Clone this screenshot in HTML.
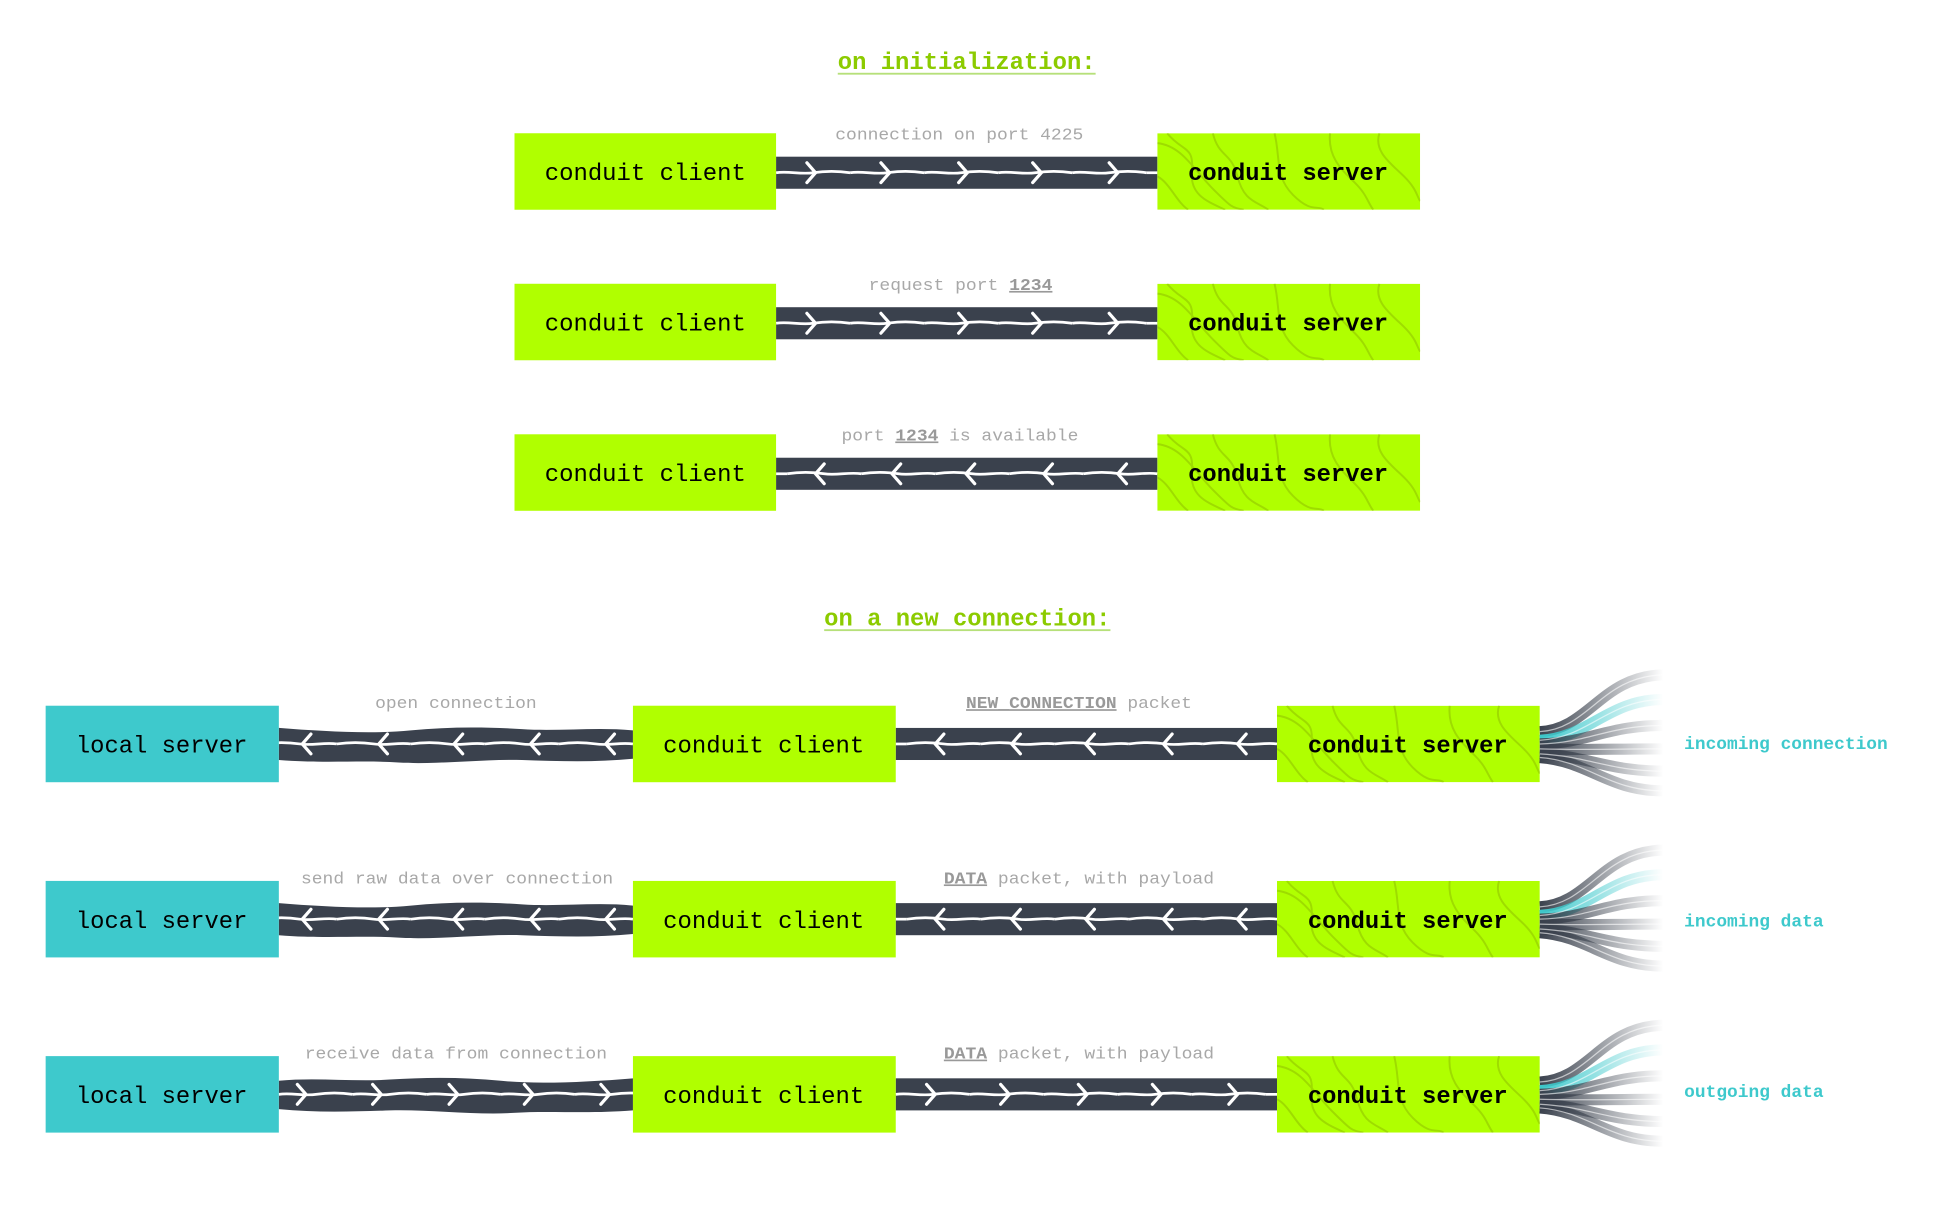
<!DOCTYPE html>
<html><head><meta charset="utf-8"><style>html,body{margin:0;padding:0;background:#fff}svg{display:block}</style></head><body>
<svg width="1934" height="1217" viewBox="0 0 1567.5 986.4" preserveAspectRatio="none" xmlns="http://www.w3.org/2000/svg" font-family="'Liberation Mono', 'DejaVu Sans Mono', monospace">
<defs>
<linearGradient id="gd" gradientUnits="userSpaceOnUse" x1="0" y1="0" x2="100" y2="0"><stop offset="0" stop-color="#3a414d"/><stop offset="1" stop-color="#3a414d" stop-opacity="0"/></linearGradient>
<linearGradient id="gt" gradientUnits="userSpaceOnUse" x1="0" y1="0" x2="100" y2="0"><stop offset="0" stop-color="#3ec9cc"/><stop offset="1" stop-color="#3ec9cc" stop-opacity="0"/></linearGradient>
<g id="chev"><path d="M-7,-8 L0,0 L-7,8" fill="none" stroke="#fff" stroke-width="2.6" stroke-linecap="round"/></g>
<g id="wl"><path d="M0,0 C10,-1.5 20,1.5 30,0 S50,-1.5 60,0" fill="none" stroke="#fff" stroke-width="2.2"/></g>
<symbol id="bar" viewBox="0 -13 309 26" width="309" height="26" overflow="visible">
<rect x="0" y="-13" width="309" height="26" fill="#3a414d"/>
<use href="#wl" x="0"/><use href="#wl" x="60"/><use href="#wl" x="120"/><use href="#wl" x="180"/><use href="#wl" x="240"/><path d="M300,0 L309,0" stroke="#fff" stroke-width="2.2"/>
<use href="#chev" x="32"/><use href="#chev" x="92"/><use href="#chev" x="155"/><use href="#chev" x="215"/><use href="#chev" x="277"/>
</symbol>
<symbol id="wbar" viewBox="0 -16 287 32" width="287" height="32" overflow="visible">
<path d="M0,-11 C30,-14 60,-10 90,-12 S150,-14 180,-11 S250,-10 287,-13 L287,13 C250,16 220,13 190,15 S120,12 90,13 S30,15 0,12 Z" fill="#3a414d"/>
<use href="#wl" x="0"/><use href="#wl" x="60"/><use href="#wl" x="120"/><use href="#wl" x="180"/><use href="#wl" x="240"/>
<use href="#chev" x="22"/><use href="#chev" x="83"/><use href="#chev" x="145"/><use href="#chev" x="206"/><use href="#chev" x="268"/>
</symbol>
<symbol id="pat" viewBox="0 0 213 62" width="213" height="62">
<rect width="213" height="62" fill="#b0ff00"/>
<g fill="none" stroke="#9ad400" stroke-width="1.6" opacity="0.8">
<path d="M0,8 C20,10 30,30 45,45 S60,60 70,62"/>
<path d="M8,0 C20,15 30,10 28,30 S40,55 55,62"/>
<path d="M45,0 C50,20 60,15 65,35 S80,55 90,62"/>
<path d="M95,0 C100,20 95,35 110,50 S130,58 135,62"/>
<path d="M140,0 C138,20 150,30 160,40 S170,55 175,62"/>
<path d="M180,0 C175,15 190,25 200,35 S210,50 213,55"/>
<path d="M0,35 C10,40 15,55 25,62"/>
</g>
</symbol>
<symbol id="fan" viewBox="0 -60 105 120" width="105" height="120" overflow="visible">
<g fill="none" stroke-width="9">
<path d="M0,-10 C40,-12 50,-55 100,-56" stroke="url(#gd)"/>
<path d="M0,-3 C40,-5 55,-36 100,-36" stroke="url(#gt)"/>
<path d="M0,0 C40,-1 55,-15 100,-15" stroke="url(#gd)"/>
<path d="M0,4 C40,5 55,4 100,4" stroke="url(#gd)"/>
<path d="M0,8 C40,10 55,22 100,22" stroke="url(#gd)"/>
<path d="M0,11 C40,14 55,38 100,38" stroke="url(#gd)"/>
</g>
<g fill="none" stroke="#fff" stroke-width="1" opacity="0.6">
<path d="M0,-10 C40,-12 50,-55 100,-56"/><path d="M0,-3 C40,-5 55,-36 100,-36"/><path d="M0,0 C40,-1 55,-15 100,-15"/><path d="M0,4 C40,5 55,4 100,4"/><path d="M0,8 C40,10 55,22 100,22"/><path d="M0,11 C40,14 55,38 100,38"/>
</g>
</symbol>
</defs>

<text x="783.5" y="56" text-anchor="middle" font-size="19.5" font-weight="bold" fill="#8ccb00" textLength="209" lengthAdjust="spacingAndGlyphs">on initialization:</text>
<rect x="679" y="59" width="209" height="1.5" fill="#b6e07a"/>
<text x="784" y="507" text-anchor="middle" font-size="19.5" font-weight="bold" fill="#8ccb00" textLength="232" lengthAdjust="spacingAndGlyphs">on a new connection:</text>
<rect x="668" y="510" width="232" height="1.5" fill="#b6e07a"/>

<g font-size="19.5" text-anchor="middle">
<g>
<use href="#bar" x="629" y="127"/>
<rect x="417" y="108" width="212" height="62" fill="#b0ff00"/>
<use href="#pat" x="938" y="108"/>
<text x="523" y="146" textLength="163" lengthAdjust="spacingAndGlyphs">conduit client</text>
<text x="1044" y="146" font-weight="bold" textLength="162" lengthAdjust="spacingAndGlyphs">conduit server</text>
</g>
<g>
<use href="#bar" x="629" y="249"/>
<rect x="417" y="230" width="212" height="62" fill="#b0ff00"/>
<use href="#pat" x="938" y="230"/>
<text x="523" y="268" textLength="163" lengthAdjust="spacingAndGlyphs">conduit client</text>
<text x="1044" y="268" font-weight="bold" textLength="162" lengthAdjust="spacingAndGlyphs">conduit server</text>
</g>
<g>
<use href="#bar" x="-938" y="371" transform="scale(-1,1)"/>
<rect x="417" y="352" width="212" height="62" fill="#b0ff00"/>
<use href="#pat" x="938" y="352"/>
<text x="523" y="390" textLength="163" lengthAdjust="spacingAndGlyphs">conduit client</text>
<text x="1044" y="390" font-weight="bold" textLength="162" lengthAdjust="spacingAndGlyphs">conduit server</text>
</g>

<g>
<use href="#wbar" x="-513" y="587" transform="scale(-1,1)"/>
<use href="#bar" x="-1035" y="590" transform="scale(-1,1)"/>
<rect x="37" y="572" width="189" height="62" fill="#3ec9cc"/>
<rect x="513" y="572" width="213" height="62" fill="#b0ff00"/>
<use href="#pat" x="1035" y="572"/>
<use href="#fan" x="1248" y="543"/>
<text x="131" y="610" textLength="139" lengthAdjust="spacingAndGlyphs">local server</text>
<text x="619" y="610" textLength="163" lengthAdjust="spacingAndGlyphs">conduit client</text>
<text x="1141" y="610" font-weight="bold" textLength="162" lengthAdjust="spacingAndGlyphs">conduit server</text>
</g>
<g>
<use href="#wbar" x="-513" y="729" transform="scale(-1,1)"/>
<use href="#bar" x="-1035" y="732" transform="scale(-1,1)"/>
<rect x="37" y="714" width="189" height="62" fill="#3ec9cc"/>
<rect x="513" y="714" width="213" height="62" fill="#b0ff00"/>
<use href="#pat" x="1035" y="714"/>
<use href="#fan" x="1248" y="685"/>
<text x="131" y="752" textLength="139" lengthAdjust="spacingAndGlyphs">local server</text>
<text x="619" y="752" textLength="163" lengthAdjust="spacingAndGlyphs">conduit client</text>
<text x="1141" y="752" font-weight="bold" textLength="162" lengthAdjust="spacingAndGlyphs">conduit server</text>
</g>
<g>
<use href="#wbar" x="226" y="871"/>
<use href="#bar" x="726" y="874"/>
<rect x="37" y="856" width="189" height="62" fill="#3ec9cc"/>
<rect x="513" y="856" width="213" height="62" fill="#b0ff00"/>
<use href="#pat" x="1035" y="856"/>
<use href="#fan" x="1248" y="827"/>
<text x="131" y="894" textLength="139" lengthAdjust="spacingAndGlyphs">local server</text>
<text x="619" y="894" textLength="163" lengthAdjust="spacingAndGlyphs">conduit client</text>
<text x="1141" y="894" font-weight="bold" textLength="162" lengthAdjust="spacingAndGlyphs">conduit server</text>
</g>
</g>

<g font-size="13.5" fill="#a8a8a8" text-anchor="middle">
<text x="777.5" y="113" textLength="201" lengthAdjust="spacingAndGlyphs">connection on port 4225</text>
<text x="778.5" y="235" textLength="149" lengthAdjust="spacingAndGlyphs">request port <tspan font-weight="bold" fill="#999" text-decoration="underline">1234</tspan></text>
<text x="778" y="357" textLength="192" lengthAdjust="spacingAndGlyphs">port <tspan font-weight="bold" fill="#999" text-decoration="underline">1234</tspan> is available</text>
<text x="369.5" y="574" textLength="131" lengthAdjust="spacingAndGlyphs">open connection</text>
<text x="874.5" y="574" textLength="183" lengthAdjust="spacingAndGlyphs"><tspan font-weight="bold" fill="#999" text-decoration="underline">NEW_CONNECTION</tspan> packet</text>
<text x="370.5" y="716" textLength="253" lengthAdjust="spacingAndGlyphs">send raw data over connection</text>
<text x="874.5" y="716" textLength="219" lengthAdjust="spacingAndGlyphs"><tspan font-weight="bold" fill="#999" text-decoration="underline">DATA</tspan> packet, with payload</text>
<text x="369.5" y="858" textLength="245" lengthAdjust="spacingAndGlyphs">receive data from connection</text>
<text x="874.5" y="858" textLength="219" lengthAdjust="spacingAndGlyphs"><tspan font-weight="bold" fill="#999" text-decoration="underline">DATA</tspan> packet, with payload</text>
</g>
<g font-size="14" fill="#3ec9cc" font-weight="bold">
<text x="1365" y="607" textLength="165" lengthAdjust="spacingAndGlyphs">incoming connection</text>
<text x="1365" y="751" textLength="113" lengthAdjust="spacingAndGlyphs">incoming data</text>
<text x="1365" y="889" textLength="113" lengthAdjust="spacingAndGlyphs">outgoing data</text>
</g>
</svg>
</body></html>
